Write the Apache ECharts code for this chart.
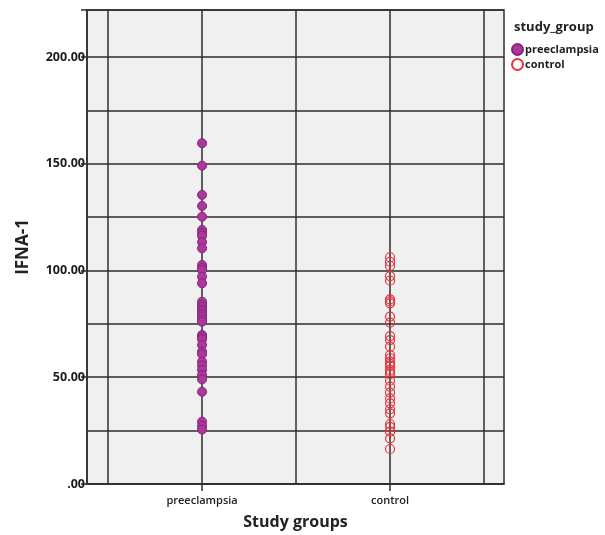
<!DOCTYPE html>
<html>
<head>
<meta charset="utf-8">
<script src="https://cdn.jsdelivr.net/npm/echarts@6/dist/echarts.min.js"></script>
<style>
html,body{margin:0;padding:0;background:#fff;}
#chart{width:605px;height:535px;}
</style>
</head>
<body>
<div id="chart"></div>
<script>
var categories = ['preeclampsia', 'control'];
var categoryPositions = [1, 2];
var verticalLines = [0.5, 1, 1.5, 2, 2.5];
var yTicks = [0, 50, 100, 150, 200];
var yTickLabels = ['.00', '50.00', '100.00', '150.00', '200.00'];

var preeclampsiaValues = [159.6, 149.1, 135.4, 130.2, 125.2, 119.0, 117.5, 116.2, 113.3, 110.4,
  102.6, 101.2, 100.2, 97.1, 94.0, 85.4, 84.0, 83.0, 81.6, 80.7, 79.5, 78.4, 77.0, 76.0,
  69.8, 68.8, 67.8, 65.1, 62.0, 60.8, 57.3, 55.5, 53.4, 51.0, 49.0, 43.2, 29.2, 27.2, 25.5];

var controlValues = [106.2, 104.1, 102.1, 97.4, 95.2, 86.5, 85.5, 84.6, 78.4, 75.6,
  69.3, 67.4, 64.3, 60.4, 58.9, 57.3, 56.2, 55.3, 53.4, 52.5, 51.5, 48.4, 45.6, 42.8,
  40.1, 37.8, 35.0, 33.1, 28.1, 26.8, 24.5, 21.4, 16.4];

function toPoints(pos, vals) {
  return vals.map(function (v) { return [pos, v]; });
}

var lineCol = '#2e2e2e';
var chart = echarts.init(document.getElementById('chart'), null, {renderer: 'canvas'});
chart.setOption({
  animation: false,
  backgroundColor: '#ffffff',
  textStyle: {fontFamily: 'Open Sans'},
  title: {
    text: 'study_group',
    left: 509, top: 16,
    textStyle: {fontFamily: 'Open Sans', fontSize: 13, fontWeight: 'bold', color: '#222'}
  },
  legend: {
    data: categories,
    orient: 'vertical',
    left: 506, top: 38,
    itemGap: 2,
    itemWidth: 11, itemHeight: 11,
    icon: 'circle',
    textStyle: {fontFamily: 'Open Sans', fontSize: 11, fontWeight: 'bold', color: '#222', padding: [0, 0, 0, -3]}
  },
  grid: {
    left: 87, right: 101, top: 10, bottom: 51,
    show: true, backgroundColor: '#f0f0f0', borderColor: lineCol, borderWidth: 1.5,
    containLabel: false
  },
  xAxis: {
    type: 'value',
    min: 0.388, max: 2.606,
    name: 'Study groups',
    nameLocation: 'middle',
    nameGap: 30,
    nameTextStyle: {fontFamily: 'Open Sans', fontSize: 16, fontWeight: 'bold', color: '#222'},
    axisLine: {show: true, lineStyle: {color: lineCol, width: 1.5}},
    axisTick: {show: true, customValues: categoryPositions, length: 7, lineStyle: {color: lineCol, width: 1.5}},
    axisLabel: {
      customValues: categoryPositions,
      margin: 11,
      fontFamily: 'Open Sans', fontSize: 11, color: '#222', fontWeight: 600,
      formatter: function (v) {
        var i = categoryPositions.indexOf(Math.round(v));
        return i >= 0 ? categories[i] : '';
      }
    },
    splitLine: {show: false}
  },
  yAxis: {
    type: 'value',
    min: 0, max: 222, interval: 50,
    name: 'IFNA-1',
    nameLocation: 'middle',
    nameGap: 55,
    nameTextStyle: {fontFamily: 'Open Sans', fontSize: 17, fontWeight: 'bold', color: '#222'},
    axisLine: {show: true, lineStyle: {color: lineCol, width: 1.5}},
    axisTick: {show: true, length: 6, lineStyle: {color: lineCol, width: 1.5}},
    axisLabel: {
      margin: 2,
      fontFamily: 'Open Sans', fontSize: 12.5, color: '#1a1a1a', fontWeight: 'bold',
      formatter: function (v) {
        var i = yTicks.indexOf(v);
        return i >= 0 ? yTickLabels[i] : '';
      }
    },
    splitLine: {show: true, lineStyle: {color: lineCol, width: 1.5}},
    minorTick: {show: false, splitNumber: 2},
    minorSplitLine: {show: true, lineStyle: {color: lineCol, width: 1.5}}
  },
  series: [
    {
      name: 'gridlines',
      type: 'line',
      data: [],
      z: 1,
      silent: true,
      markLine: {
        silent: true,
        symbol: 'none',
        label: {show: false},
        lineStyle: {color: lineCol, width: 1.5, type: 'solid'},
        data: verticalLines.map(function (x) { return {xAxis: x}; })
      }
    },
    {
      name: categories[0],
      type: 'scatter',
      z: 5,
      symbol: 'circle',
      symbolSize: 9,
      itemStyle: {color: '#ad389c', borderColor: '#86247b', borderWidth: 1, opacity: 1},
      data: toPoints(categoryPositions[0], preeclampsiaValues)
    },
    {
      name: categories[1],
      type: 'scatter',
      z: 5,
      symbol: 'circle',
      symbolSize: 9,
      itemStyle: {color: 'rgba(0,0,0,0)', borderColor: '#e8323c', borderWidth: 1.2, opacity: 1},
      data: toPoints(categoryPositions[1], controlValues)
    }
  ]
});
</script>
</body>
</html>
